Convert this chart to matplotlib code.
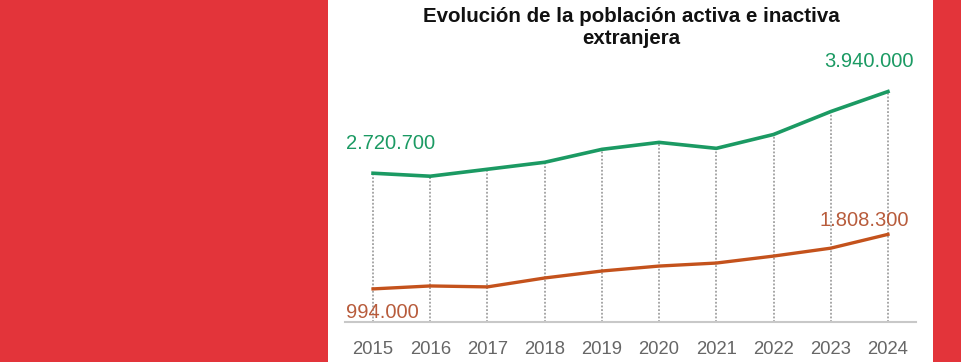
import matplotlib
matplotlib.use("Agg")
import matplotlib.pyplot as plt
from matplotlib.patches import Rectangle

years = [2015, 2016, 2017, 2018, 2019, 2020, 2021, 2022, 2023, 2024]
activa = [2720700, 2676000, 2780000, 2884000, 3077000, 3181000, 3092000, 3299000, 3641000, 3940000]
inactiva = [994000, 1038000, 1024000, 1157000, 1261000, 1335000, 1380000, 1484000, 1602000, 1808300]

title = "Evolución de la población activa e inactiva\nextranjera"
green = "#1b9a63"
orange = "#c4521c"
orange_txt = "#b85c3c"
red_bg = "#e3343a"

plt.rcParams["font.family"] = ["Liberation Sans", "DejaVu Sans"]

W, H = 961, 362
fig = plt.figure(figsize=(W / 100, H / 100), dpi=100)
fig.patch.set_facecolor(red_bg)

# white panel in the middle, behind the chart
fig.add_artist(Rectangle((328 / W, 0), (933 - 328) / W, 1,
                         transform=fig.transFigure, facecolor="white",
                         edgecolor="none", zorder=-5))

ax = fig.add_axes([345 / W, (H - 322) / H, (916 - 345) / W, (322 - 50) / H], zorder=1)
ax.set_facecolor("none")
ax.set_xlim(years[0] - 0.49, years[-1] + 0.49)
ax.set_ylim(500000, 4560000)

# dotted guides from the upper line down to the base
ax.vlines(years, 500000, activa, colors="#8f8f8f", linestyles=(0, (1.2, 1.2)),
          linewidth=1.1, zorder=1)

ax.plot(years, activa, color=green, linewidth=2.6, zorder=3)
ax.plot(years, inactiva, color=orange, linewidth=2.4, zorder=3)

for s in ["top", "right", "left"]:
    ax.spines[s].set_visible(False)
ax.spines["bottom"].set_color("#c8c8c8")
ax.spines["bottom"].set_linewidth(1.5)
ax.set_yticks([])
ax.set_xticks(years)
ax.set_xticklabels([str(y) for y in years], fontsize=13.3, color="#666666")
ax.tick_params(axis="x", length=0, pad=13.5)

fmt = lambda v: f"{v:,}".replace(",", ".")
ann = dict(textcoords="offset pixels", ha="center", va="center", fontsize=14.5)
ax.annotate(fmt(activa[0]), (years[0], activa[0]), xytext=(18, 30), color=green, **ann)
ax.annotate(fmt(activa[-1]), (years[-1], activa[-1]), xytext=(-19, 30), color=green, **ann)
ax.annotate(fmt(inactiva[-1]), (years[-1], inactiva[-1]), xytext=(-24, 14), color=orange_txt, **ann)
ax.annotate(fmt(inactiva[0]), (years[0], inactiva[0]), xytext=(9, -24), color=orange_txt, **ann)

fig.text(631 / W, 1 - 27.5 / H, title, ha="center", va="center", fontsize=14.8,
         fontweight="bold", color="#111111", linespacing=1.25, zorder=2)

fig.savefig("out.png", dpi=100, facecolor=fig.get_facecolor())
